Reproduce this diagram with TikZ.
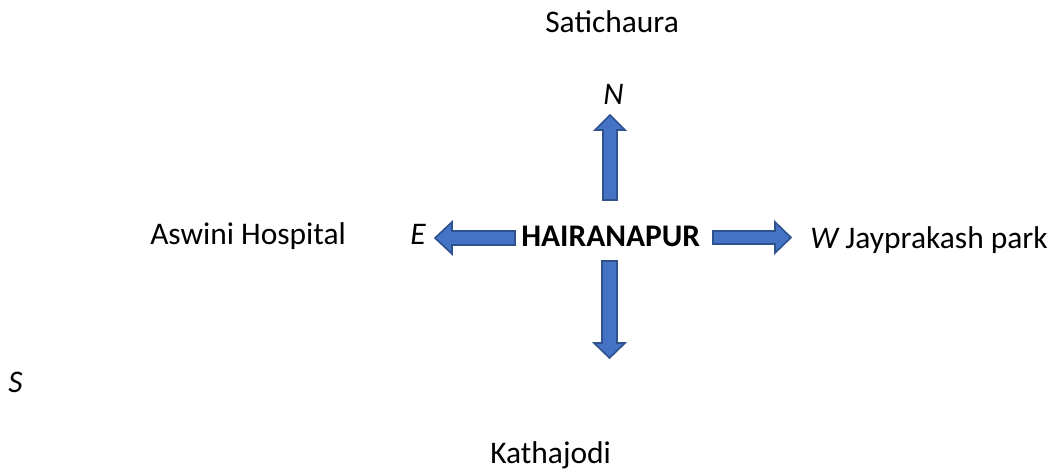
\documentclass[tikz,border=0pt]{standalone}
\usepackage{fontspec}
\setmainfont{Carlito}
\definecolor{arrfill}{HTML}{4472C4}
\definecolor{arrline}{HTML}{2F528F}
\begin{document}
\begin{tikzpicture}[x=0.75pt,y=-0.75pt,
  lbl/.style={anchor=base west,inner sep=0pt,font=\fontsize{23.6pt}{28pt}\selectfont},
  blockarrow/.style={fill=arrfill,draw=arrline,line width=1.2pt,line join=miter}]
\useasboundingbox (0,0) rectangle (1056,470);
% labels
\node[lbl] (sat) at (545,33) {Satichaura};
\node[lbl] (n) at (603,105) {\itshape N};
\node[lbl] (asw) at (150,245) {Aswini Hospital};
\node[lbl] (e) at (410,245) {\itshape E};
\node[lbl] (hai) at (521,247) {\bfseries HAIRANAPUR};
\node[lbl] (w) at (810,248) {\itshape W\upshape\ Jayprakash park};
\node[lbl] (s) at (8,392) {\itshape S};
\node[lbl] (kat) at (490,463) {Kathajodi};
% north arrow
\draw[blockarrow] (603,200) -- (603,130) -- (595,130) -- (610,115) -- (625,130) -- (617,130) -- (617,200) -- cycle;
% south arrow
\draw[blockarrow] (602,261) -- (602,343) -- (594,343) -- (609.5,358) -- (625,343) -- (617,343) -- (617,261) -- cycle;
% east (left) arrow
\draw[blockarrow] (515,231) -- (452,231) -- (452,222) -- (435,238) -- (452,254) -- (452,245) -- (515,245) -- cycle;
% west (right) arrow
\draw[blockarrow] (713,231) -- (775,231) -- (775,222) -- (791,237.5) -- (775,253) -- (775,244) -- (713,244) -- cycle;
\end{tikzpicture}
\end{document}
